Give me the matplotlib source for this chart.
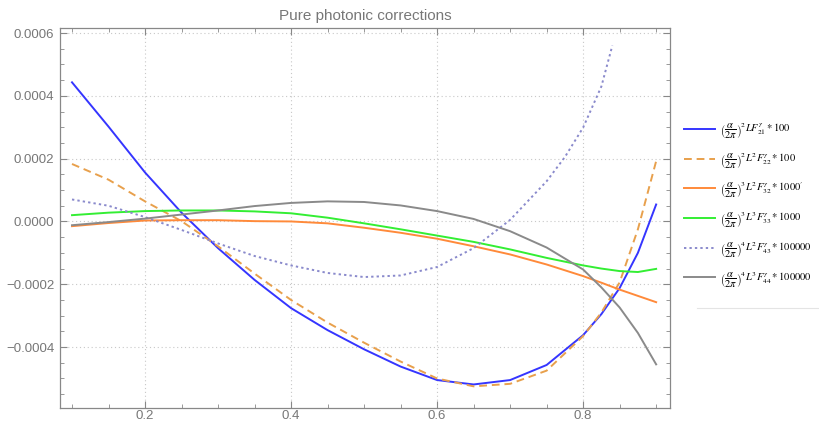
import numpy as np
import matplotlib
matplotlib.use("Agg")
import matplotlib.pyplot as plt
from matplotlib.ticker import MultipleLocator, FuncFormatter
from matplotlib.lines import Line2D

# valeurs
x = [0.1, 0.15, 0.2, 0.25, 0.3, 0.35, 0.4, 0.45, 0.5, 0.55, 0.6, 0.65,
     0.7, 0.75, 0.8, 0.825, 0.85, 0.875, 0.9]

f21 = [0.000443, 0.000302, 0.000156, 0.000028, -0.000085, -0.000186, -0.000276,
       -0.000346, -0.000407, -0.000462, -0.000505, -0.000519, -0.000505,
       -0.000457, -0.000362, -0.000295, -0.000212, -0.000100, 0.000054]
f22 = [0.000183, 0.000133, 0.000064, 0.000001, -0.000079, -0.000166, -0.000250,
       -0.000322, -0.000386, -0.000446, -0.000500, -0.000525, -0.000517,
       -0.000475, -0.000365, -0.000290, -0.000194, -0.000025, 0.000192]
f32 = [-0.000015, -0.000005, 0.000003, 0.000004, 0.000004, 0.000001, 0.000000,
       -0.000006, -0.000020, -0.000036, -0.000055, -0.000079, -0.000105,
       -0.000137, -0.000174, -0.000195, -0.000217, -0.000237, -0.000257]
f33 = [0.000020, 0.000028, 0.000033, 0.000035, 0.000035, 0.000032, 0.000026,
       0.000012, -0.000006, -0.000025, -0.000045, -0.000065, -0.000089,
       -0.000116, -0.000140, -0.000150, -0.000158, -0.000161, -0.000151]
f44 = [-0.000012, -0.000002, 0.000009, 0.000022, 0.000035, 0.000049, 0.000059,
       0.000064, 0.000062, 0.000051, 0.000033, 0.000008, -0.000031,
       -0.000083, -0.000153, -0.000210, -0.000274, -0.000355, -0.000455]

x43 = [0.1, 0.15, 0.2, 0.25, 0.3, 0.35, 0.4, 0.45, 0.5, 0.55, 0.6, 0.65,
       0.7, 0.75, 0.775, 0.8, 0.825, 0.84]
f43 = [0.000070, 0.000050, 0.000014, -0.000027, -0.000070, -0.000110, -0.000140,
       -0.000164, -0.000177, -0.000172, -0.000145, -0.000085, 0.000005,
       0.000128, 0.000205, 0.000299, 0.000430, 0.000560]

labels = [
    r"$\left(\dfrac{\alpha}{2\pi}\right)^2 LF^{\gamma}_{21} * 100$",
    r"$\left(\dfrac{\alpha}{2\pi}\right)^2 L^2F^{\gamma}_{22} * 100$",
    r"$\left(\dfrac{\alpha}{2\pi}\right)^3 L^2F^{\gamma}_{32} * 1000'$",
    r"$\left(\dfrac{\alpha}{2\pi}\right)^3 L^3F^{\gamma}_{33} * 1000$",
    r"$\left(\dfrac{\alpha}{2\pi}\right)^4 L^2F^{\gamma}_{43} * 100000$",
    r"$\left(\dfrac{\alpha}{2\pi}\right)^4 L^3F^{\gamma}_{44} * 100000$",
]

plt.rcParams['mathtext.fontset'] = 'stix'
plt.rcParams['font.family'] = 'Liberation Sans'

fig = plt.figure(figsize=(8.2, 4.24), dpi=100)
ax = fig.add_axes([0.0732, 0.0377, 0.7439, 0.8963])

lw = 1.4
ax.plot(x, f21, color='#3535ff', lw=lw, label=labels[0])
ax.plot(x, f22, color='#e8a04c', lw=lw, ls=(0, (4, 2.5)), label=labels[1])
ax.plot(x, f32, color='#ff8a3a', lw=lw, label=labels[2])
ax.plot(x, f33, color='#33ee33', lw=lw, label=labels[3])
ax.plot(x43, f43, color='#8a8acc', lw=lw, ls=(0, (1.2, 1.6)), label=labels[4])
ax.plot(x, f44, color='#8a8a8a', lw=lw, label=labels[5])

ax.set_xlim(0.0836, 0.919)
ax.set_ylim(-0.000594, 0.000616)

ax.xaxis.set_major_locator(MultipleLocator(0.2))
ax.xaxis.set_minor_locator(MultipleLocator(0.05))
ax.yaxis.set_major_locator(MultipleLocator(0.0002))
ax.yaxis.set_minor_locator(MultipleLocator(0.00005))
ax.xaxis.set_major_formatter(FuncFormatter(lambda v, p: f"{v:.1f}"))
ax.yaxis.set_major_formatter(FuncFormatter(lambda v, p: f"{v:.4f}".replace("-", "\u2212") if abs(v) > 1e-12 else "0.0000"))

gcol = '#888888'
ax.tick_params(which='both', direction='in', top=True, right=True,
               colors=gcol, labelsize=9.5, labelcolor='#777777')
ax.tick_params(which='major', length=5, width=0.8)
ax.tick_params(which='minor', length=3, width=0.6)
ax.tick_params(axis='x', which='both', labeltop=False, pad=1.5)
ax.tick_params(axis='y', which='both', labelright=False, pad=4)
for s in ax.spines.values():
    s.set_color(gcol)
    s.set_linewidth(0.9)

ax.grid(True, which='major', ls=(0, (1, 2.5)), color='#c8c8c8', lw=0.8)
ax.set_axisbelow(True)

ax.set_title("Pure photonic corrections", color='#777777', fontsize=11, pad=6)

fig.legend(loc='center left', bbox_to_anchor=(0.827, 0.515), frameon=False,
           fontsize=7.6, handlelength=2.9, handletextpad=0.5, labelspacing=0.98,
           borderaxespad=0.2)

fig.add_artist(Line2D([0.85, 0.998], [0.273, 0.273], color='#e4e4e4', lw=0.8))

fig.savefig("out.png", dpi=100)
